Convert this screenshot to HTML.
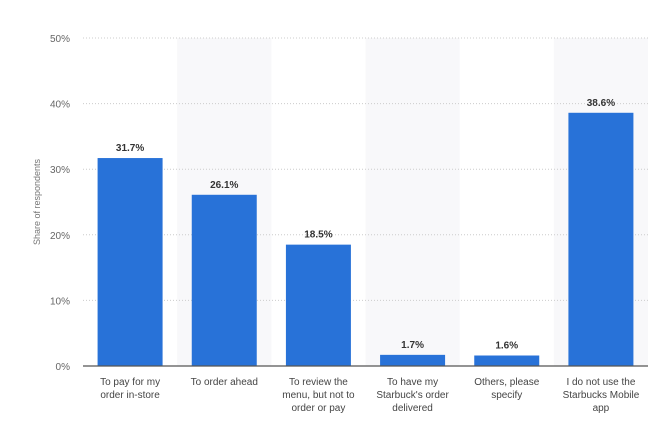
<!DOCTYPE html>
<html><head><meta charset="utf-8"><style>
body{margin:0;background:#fff;width:652px;height:419px;overflow:hidden;font-family:"Liberation Sans",sans-serif}
</style></head><body>
<svg id="chart" width="652" height="419" xmlns="http://www.w3.org/2000/svg"></svg>
<script>
const categories=[["To pay for my","order in-store"],["To order ahead"],["To review the","menu, but not to","order or pay"],["To have my","Starbuck's order","delivered"],["Others, please","specify"],["I do not use the","Starbucks Mobile","app"]];
const values=[31.7,26.1,18.5,1.7,1.6,38.6];
const valueLabels=["31.7%","26.1%","18.5%","1.7%","1.6%","38.6%"];
const ticks=[0,10,20,30,40,50];
const tickLabels=["0%","10%","20%","30%","40%","50%"];
const svg=document.getElementById('chart');
const NS='http://www.w3.org/2000/svg';
const x0=83,x1=648,y0=366,yTop=38,maxV=50;
const band=(x1-x0)/categories.length;
const y=v=>y0-(v/maxV)*(y0-yTop);
const xc=i=>x0+band*(i+0.5);
function mk(t,a){const e=document.createElementNS(NS,t);for(const k in a)e.setAttribute(k,a[k]);svg.appendChild(e);return e;}
for(let i=1;i<categories.length;i+=2){
 const r=mk('rect',{x:x0+band*i,y:yTop,width:band,height:y0-yTop,fill:'#f8f8fa'});
 
 
}
ticks.forEach((t,i)=>{
 if(t>0){const l=mk('line',{x1:x0,x2:x1,y1:y(t),y2:y(t),stroke:'#ccc','stroke-dasharray':'1,2'});
 
 }
 const tx=mk('text',{x:70,y:y(t)+4,'text-anchor':'end','font-size':'10',fill:'#666'});
 tx.textContent=tickLabels[i];
 
 
});
const yt=mk('text',{x:40,y:202,'text-anchor':'middle','font-size':'9',fill:'#777',transform:'rotate(-90 40 202)'});
yt.textContent='Share of respondents';


const bw=65;
values.forEach((v,i)=>{
 const b=mk('rect',{x:xc(i)-bw/2,y:y(v),width:bw,height:y0-y(v),fill:'#2872d8'});
 
 
 const t=mk('text',{x:xc(i),y:y(v)-7,'text-anchor':'middle','font-size':'10','font-weight':'bold',fill:'#333'});
 t.textContent=valueLabels[i];
 
 
 categories[i].forEach((ln,j)=>{
  const c=mk('text',{x:xc(i),y:385+j*13,'text-anchor':'middle','font-size':'10',fill:'#444'});
  c.textContent=ln;
  
  
 });
});
const ax=mk('line',{x1:x0,x2:x1,y1:y0,y2:y0,stroke:'#555','stroke-width':'1.2'});


</script>
</body></html>
